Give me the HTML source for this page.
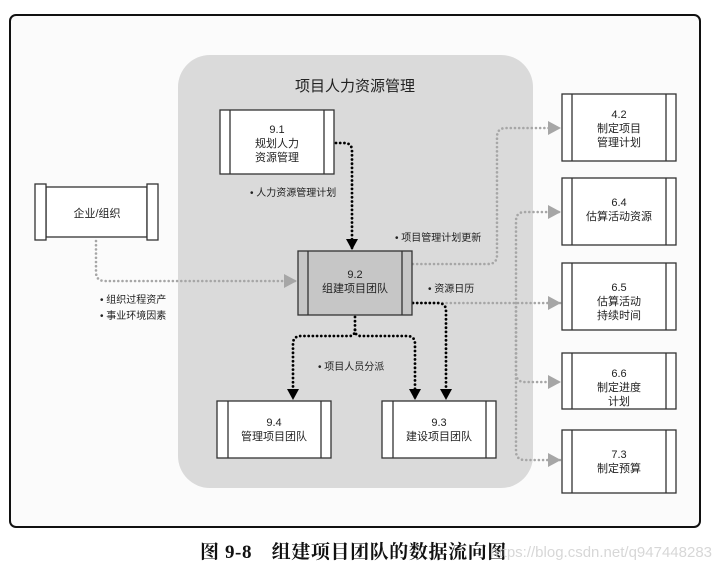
<!DOCTYPE html>
<html><head><meta charset="utf-8"><style>
html,body{margin:0;padding:0;background:#fff;}
svg text{font-family:"Liberation Sans","Noto Sans CJK SC",sans-serif;}
</style></head><body>
<svg width="720" height="570" viewBox="0 0 720 570" xmlns="http://www.w3.org/2000/svg">
<defs>
<marker id="ab" markerWidth="12" markerHeight="12" refX="10" refY="6" orient="auto" markerUnits="userSpaceOnUse"><path d="M0,0 L11,6 L0,12 Z" fill="#000"/></marker>
<marker id="ag" markerWidth="14" markerHeight="14" refX="12" refY="7" orient="auto" markerUnits="userSpaceOnUse"><path d="M0,0 L13,7 L0,14 Z" fill="#a6a6a6"/></marker>
</defs>
<rect x="10" y="15" width="690" height="512" rx="6" fill="#fbfbfb" stroke="#111" stroke-width="2"/>
<rect x="178" y="55" width="355" height="433" rx="32" fill="#dadada"/>
<text x="355" y="91" font-size="15" text-anchor="middle" fill="#222">项目人力资源管理</text>

<g fill="none" stroke="#a6a6a6" stroke-width="2.6" stroke-linecap="round" stroke-dasharray="0 4.2">
<path d="M96,241 V272 Q96,281 105,281 H296" marker-end="url(#ag)"/>
<path d="M413,264 H488 Q497,264 497,255 V137 Q497,128 506,128 H560" marker-end="url(#ag)"/>
<path d="M413,303 H560" marker-end="url(#ag)"/>
<path d="M516,303 V221 Q516,212 525,212 H560" marker-end="url(#ag)"/>
<path d="M516,303 V373 Q516,382 525,382 H560" marker-end="url(#ag)"/>
<path d="M516,303 V451 Q516,460 525,460 H560" marker-end="url(#ag)"/>
</g>
<g fill="none" stroke="#000" stroke-width="2.8" stroke-linecap="round" stroke-dasharray="0 4.2">
<path d="M336,143 H344 Q352,143 352,151 V249" marker-end="url(#ab)"/>
<path d="M413,303 H438 Q446,303 446,311 V399" marker-end="url(#ab)"/>
<path d="M355,317 V330 Q355,336 349,336 H301 Q293,336 293,344 V399" marker-end="url(#ab)"/>
<path d="M355,330 Q355,336 361,336 H407 Q415,336 415,344 V399" marker-end="url(#ab)"/>
</g>

<g stroke="#333" stroke-width="1.3">
<rect x="220" y="110" width="114" height="64" fill="#fff"/><line x1="230" y1="110" x2="230" y2="174"/><line x1="324" y1="110" x2="324" y2="174"/>
<rect x="298" y="251" width="114" height="64" fill="#c6c6c6"/><line x1="308" y1="251" x2="308" y2="315"/><line x1="402" y1="251" x2="402" y2="315"/>
<rect x="217" y="401" width="114" height="57" fill="#fff"/><line x1="228" y1="401" x2="228" y2="458"/><line x1="321" y1="401" x2="321" y2="458"/>
<rect x="382" y="401" width="114" height="57" fill="#fff"/><line x1="393" y1="401" x2="393" y2="458"/><line x1="486" y1="401" x2="486" y2="458"/>
<rect x="46" y="187" width="101" height="50" fill="#fff"/>
<rect x="35" y="184" width="11" height="56" fill="#fff"/><rect x="147" y="184" width="11" height="56" fill="#fff"/>
<g fill="#fff">
<rect x="562" y="94" width="114" height="67"/><rect x="562" y="178" width="114" height="67"/><rect x="562" y="263" width="114" height="67"/><rect x="562" y="353" width="114" height="56"/><rect x="562" y="430" width="114" height="63"/>
</g>
<line x1="572" y1="94" x2="572" y2="161"/><line x1="666" y1="94" x2="666" y2="161"/>
<line x1="572" y1="178" x2="572" y2="245"/><line x1="666" y1="178" x2="666" y2="245"/>
<line x1="572" y1="263" x2="572" y2="330"/><line x1="666" y1="263" x2="666" y2="330"/>
<line x1="572" y1="353" x2="572" y2="409"/><line x1="666" y1="353" x2="666" y2="409"/>
<line x1="572" y1="430" x2="572" y2="493"/><line x1="666" y1="430" x2="666" y2="493"/>
</g>

<g font-size="11" fill="#222" text-anchor="middle">
<text x="277" y="133">9.1</text><text x="277" y="147">规划人力</text><text x="277" y="161">资源管理</text>
<text x="355" y="278">9.2</text><text x="355" y="292">组建项目团队</text>
<text x="274" y="426">9.4</text><text x="274" y="440">管理项目团队</text>
<text x="439" y="426">9.3</text><text x="439" y="440">建设项目团队</text>
<text x="97" y="217">企业/组织</text>
<text x="619" y="118">4.2</text><text x="619" y="132">制定项目</text><text x="619" y="146">管理计划</text>
<text x="619" y="206">6.4</text><text x="619" y="220">估算活动资源</text>
<text x="619" y="291">6.5</text><text x="619" y="305">估算活动</text><text x="619" y="319">持续时间</text>
<text x="619" y="377">6.6</text><text x="619" y="391">制定进度</text><text x="619" y="405">计划</text>
<text x="619" y="458">7.3</text><text x="619" y="472">制定预算</text>
</g>
<g font-size="10" fill="#222">
<text x="250" y="196">• 人力资源管理计划</text>
<text x="395" y="241">• 项目管理计划更新</text>
<text x="428" y="292">• 资源日历</text>
<text x="100" y="303">• 组织过程资产</text>
<text x="100" y="319">• 事业环境因素</text>
<text x="318" y="370">• 项目人员分派</text>
</g>
<text x="200" y="558" font-size="19" letter-spacing="0.6" font-weight="bold" fill="#111" style="font-family:'Liberation Serif','Noto Serif CJK SC',serif">图 9-8　组建项目团队的数据流向图</text>
<text x="712" y="557" font-size="15" fill="#d0d0d0" fill-opacity="0.85" text-anchor="end" style="font-family:'Liberation Sans',sans-serif">https://blog.csdn.net/q947448283</text>
</svg>
</body></html>
